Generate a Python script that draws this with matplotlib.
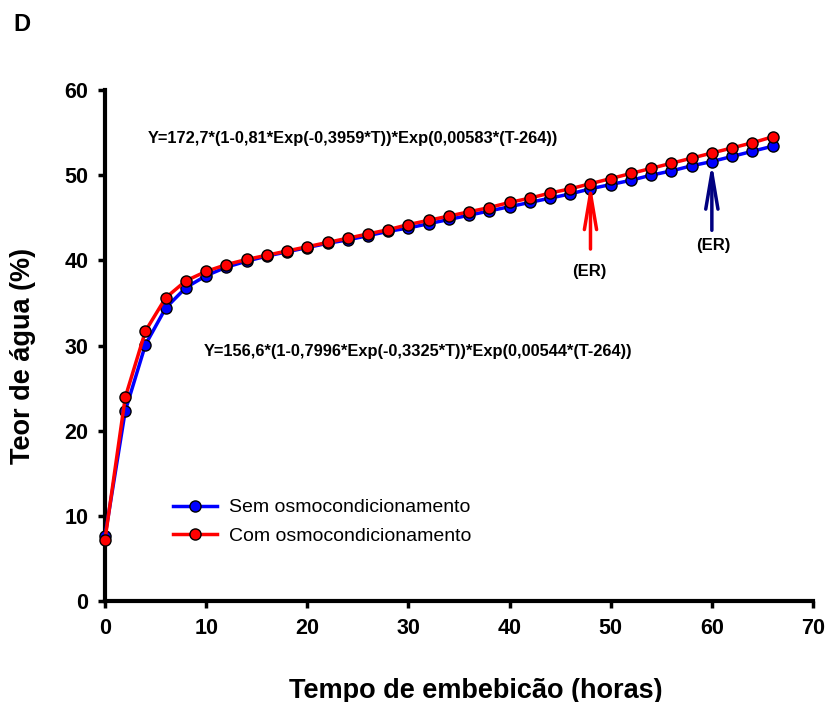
import matplotlib
matplotlib.use("Agg")
import matplotlib.pyplot as plt

plt.rcParams['font.family'] = ['Liberation Sans', 'DejaVu Sans']

# Tempo de embebição (horas)
tempo = list(range(0, 68, 2))

# Teor de água (%)
sem_osmo = [7.6, 22.3, 30.1, 34.4, 36.8, 38.2, 39.2, 39.9, 40.5, 41.0,
            41.5, 42.0, 42.4, 42.9, 43.4, 43.8, 44.3, 44.8, 45.3, 45.8,
            46.3, 46.8, 47.3, 47.8, 48.4, 48.9, 49.4, 50.0, 50.5, 51.1,
            51.6, 52.2, 52.8, 53.4]
com_osmo = [7.2, 23.9, 31.7, 35.6, 37.6, 38.7, 39.5, 40.1, 40.6, 41.1,
            41.6, 42.1, 42.6, 43.1, 43.6, 44.2, 44.7, 45.2, 45.7, 46.2,
            46.8, 47.3, 47.9, 48.4, 49.0, 49.6, 50.2, 50.8, 51.4, 52.0,
            52.6, 53.2, 53.8, 54.5]

eq_com = "Y=172,7*(1-0,81*Exp(-0,3959*T))*Exp(0,00583*(T-264))"
eq_sem = "Y=156,6*(1-0,7996*Exp(-0,3325*T))*Exp(0,00544*(T-264))"

fig = plt.figure(figsize=(8.27, 7.02), dpi=100)
ax = fig.add_axes([105 / 827, 1 - 601 / 702, 708 / 827, 511 / 702])

ax.plot(tempo, sem_osmo, color="#0000ff", lw=2.5, marker="o", markersize=8,
        markerfacecolor="#0000ff", markeredgecolor="black", markeredgewidth=1,
        label="Sem osmocondicionamento", zorder=3, clip_on=False)
ax.plot(tempo, com_osmo, color="#ff0000", lw=2.5, marker="o", markersize=8,
        markerfacecolor="#ff0000", markeredgecolor="black", markeredgewidth=1,
        label="Com osmocondicionamento", zorder=4, clip_on=False)

# Equações
ax.text(4.25, 54.3, eq_com, fontsize=11.8, fontweight="bold", va="center")
ax.text(9.8, 29.35, eq_sem, fontsize=11.8, fontweight="bold", va="center")

# Setas (ER)
ax.annotate("", xy=(48, 49.4), xytext=(48, 41.0),
            arrowprops=dict(arrowstyle="->,head_length=1.3,head_width=0.22",
                            color="#ff0000", lw=2.5, mutation_scale=20))
ax.text(47.9, 38.7, "(ER)", fontsize=12, fontweight="bold", ha="center", va="center")
ax.annotate("", xy=(60, 51.8), xytext=(60, 43.2),
            arrowprops=dict(arrowstyle="->,head_length=1.3,head_width=0.22",
                            color="#000080", lw=2.5, mutation_scale=20))
ax.text(60.1, 41.7, "(ER)", fontsize=12, fontweight="bold", ha="center", va="center")

ax.set_xlim(0, 70)
ax.set_ylim(0, 60)
ax.set_xticks(range(0, 71, 10))
ax.set_yticks(range(0, 61, 10))
for s in ["top", "right"]:
    ax.spines[s].set_visible(False)
for s in ["left", "bottom"]:
    ax.spines[s].set_linewidth(3)
ax.tick_params(direction="out", length=5, width=2.5, labelsize=15.5, pad=7)
for lab in ax.get_xticklabels() + ax.get_yticklabels():
    lab.set_fontweight("bold")

ax.set_xlabel("Tempo de embebicão (horas)", fontsize=19.5, fontweight="bold")
ax.set_ylabel("Teor de água (%)", fontsize=19.5, fontweight="bold")
ax.xaxis.set_label_coords(0.524, -0.15)
ax.yaxis.set_label_coords(-0.097, 0.48)

ax.legend(loc="upper left", bbox_to_anchor=(0.096, 0.2), frameon=False,
          fontsize=14, handlelength=2.27, handletextpad=0.6, labelspacing=0.55,
          borderpad=0, borderaxespad=0)

fig.text(13 / 827, 1 - 31 / 702, "D", fontsize=17, fontweight="bold", va="baseline")

fig.savefig("out.png", dpi=100)
